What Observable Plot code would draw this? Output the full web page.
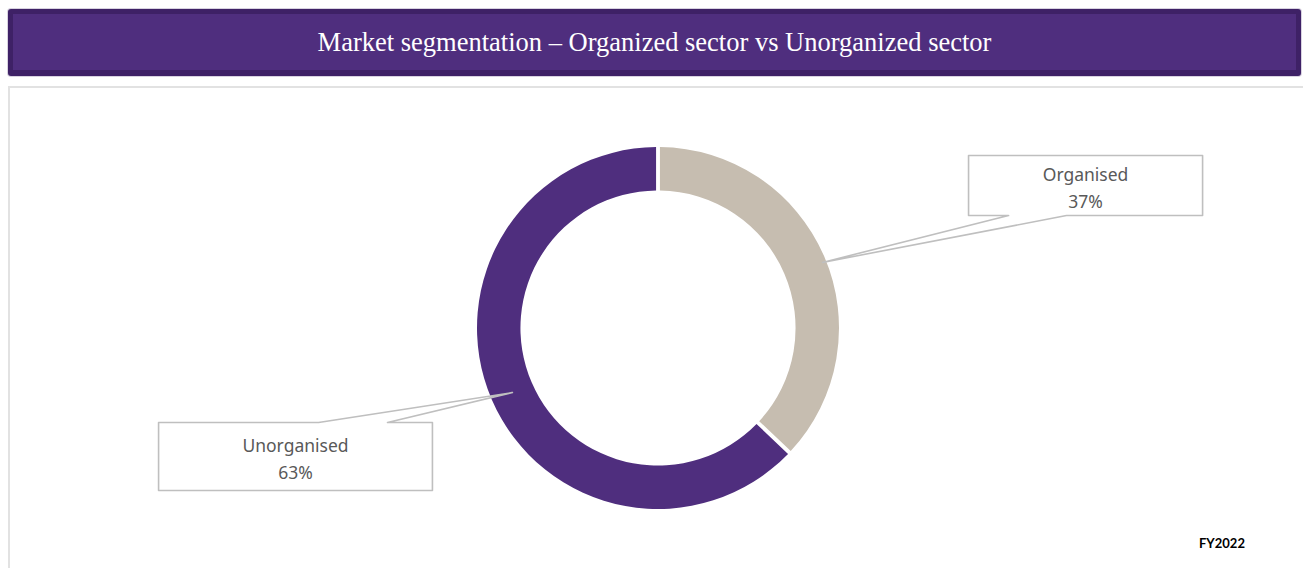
<!DOCTYPE html>
<html>
<head>
<meta charset="utf-8">
<script src="https://cdn.jsdelivr.net/npm/d3@7"></script>
<script src="https://cdn.jsdelivr.net/npm/@observablehq/plot@0.6"></script>
<style>
  html, body { margin: 0; padding: 0; background: #fff; width: 1303px; height: 568px; overflow: hidden; }
  #title {
    position: absolute; left: 8px; top: 9px; width: 1283px; height: 56px;
    background: #4f2e7e; border: 5px solid #3e2166; border-bottom-width: 6px; border-radius: 3px;
    box-shadow: 0 0 0 1px #d8d2e0;
    color: #fff; font-family: "Liberation Serif", serif; font-size: 26.5px;
    display: flex; align-items: center; justify-content: center; box-sizing: content-box;
    padding-top: 1px; height: 55px;
  }
  #box {
    position: absolute; left: 8px; top: 86px; width: 1310px; height: 500px;
    border: 2px solid #e2e2e2; box-sizing: border-box;
  }
  #chart { position: absolute; left: -1px; top: -1px; }
  #caption {
    position: absolute; left: 1199px; top: 535px;
    font-family: Lato, "Liberation Sans", sans-serif; font-weight: bold; font-size: 13px; color: #000;
  }
</style>
</head>
<body>
<div id="title">Market segmentation – Organized sector vs Unorganized sector</div>
<div id="box"><div id="chart"></div></div>
<div id="caption">FY2022</div>
<script>
// ---- data ----
const segments = ["Organised", "Unorganised"];
const shares = [37, 63];
const shareLabels = ["37%", "63%"];

// ---- styles / layout ----
const segmentColors = ["#c6bdb0", "#4f2e7e"];
const innerRatio = 0.76;
// callout geometry in donut-radius units (centre = 0,0; outer radius = 1)
const calloutBoxes = [
  {x1: 1.713, x2: 3.006, y1: 0.624, y2: 0.956, base: [1.934, 2.254], baseY: 0.624, tip: [0.906, 0.365]},
  {x1: -2.762, x2: -1.249, y1: -0.895, y2: -0.519, base: [-1.878, -1.497], baseY: -0.519, tip: [-0.807, -0.354]}
];

const table = segments.map((s, i) => ({segment: s, share: shares[i], label: `${s}\n${shareLabels[i]}`}));

// callout outline paths (box + pointer wedge), closed
const calloutPaths = [];
calloutBoxes.forEach((c, i) => {
  const pts = [];
  if (c.baseY === c.y1) { // pointer from bottom edge
    pts.push([c.x1, c.y2], [c.x2, c.y2], [c.x2, c.y1], [c.base[1], c.y1], c.tip, [c.base[0], c.y1], [c.x1, c.y1], [c.x1, c.y2]);
  } else { // pointer from top edge
    pts.push([c.x1, c.y2], [c.base[0], c.y2], c.tip, [c.base[1], c.y2], [c.x2, c.y2], [c.x2, c.y1], [c.x1, c.y1], [c.x1, c.y2]);
  }
  pts.forEach(p => calloutPaths.push({id: i, x: p[0], y: p[1]}));
});

const labelPos = calloutBoxes.map((c, i) => ({
  x: (c.x1 + c.x2) / 2, y: (c.y1 + c.y2) / 2, text: table[i].label
}));

function donut(...args) {
  const scales = args.find(a => a && typeof a.x === "function" && typeof a.y === "function");
  const cx = scales.x(0), cy = scales.y(0);
  const outer = scales.x(1) - scales.x(0);
  const inner = outer * innerRatio;
  const pie = d3.pie().sort(null).value(d => d.share).padAngle(0.017);
  const arc = d3.arc().innerRadius(inner).outerRadius(outer);
  const g = d3.create("svg:g").attr("transform", `translate(${cx},${cy})`);
  g.selectAll("path").data(pie(table)).join("path")
    .attr("d", arc)
    .attr("fill", (d, i) => segmentColors[i]);
  return g.node();
}

const plot = Plot.plot({
  width: 1300,
  height: 482,
  margin: 0,
  x: {domain: [-1, 1], range: [468, 830], axis: null},
  y: {domain: [-1, 1], range: [422, 60], axis: null},
  marks: [
    donut,
    Plot.line(calloutPaths, {x: "x", y: "y", z: "id", fill: "white", stroke: "#bfbfbf", strokeWidth: 1.6, curve: "linear"}),
    Plot.text(labelPos, {x: "x", y: "y", text: "text", fill: "#595959", fontSize: 17.5,
      fontFamily: "'Noto Sans', sans-serif", lineHeight: 1.55, lineAnchor: "middle", textAnchor: "middle"})
  ]
});
document.getElementById("chart").appendChild(plot);
</script>
</body>
</html>
